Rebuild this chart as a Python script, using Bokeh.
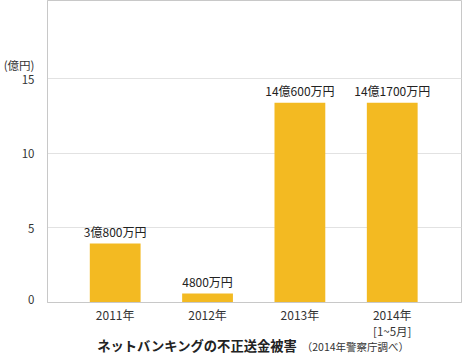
from bokeh.plotting import figure
from bokeh.models import FixedTicker, Range1d, ColumnDataSource
from bokeh.layouts import column
from bokeh.embed import file_html
from bokeh.resources import INLINE
from bokeh.core.properties import value

years = ["2011年", "2012年", "2013年", "2014年"]
year_notes = ["", "", "", "[1~5月]"]
bar_heights = [3.95, 0.6, 13.4, 13.4]  # drawn heights (億円)
bar_labels = ["3億800万円", "4800万円", "14億600万円", "14億1700万円"]
y_ticks = [0, 5, 10, 15]
unit_label = "(億円)"
unit_pos = 15.9
title_main = "ネットバンキングの不正送金被害"
title_sub = "（2014年警察庁調べ）"

FONT = "Noto Sans CJK JP"
xs = list(range(len(years)))
xr = Range1d(-0.733, 3.75)

p = figure(width=473, height=306, output_backend="svg", toolbar_location=None,
           x_range=xr, y_range=Range1d(0, 20.25),
           min_border_left=45, min_border_right=12, min_border_top=0, min_border_bottom=4)
p.background_fill_color = "white"
p.border_fill_color = "white"
p.outline_line_color = "#c8c8c8"
p.outline_line_width = 1

src = ColumnDataSource(dict(x=xs, top=bar_heights, label=bar_labels,
                            ly=[h + 0.22 for h in bar_heights]))
p.vbar(x="x", top="top", width=0.55, bottom=0, source=src,
       fill_color="#F3BA22", line_color=None)
p.text(x="x", y="ly", text="label", source=src, text_align="center",
       text_baseline="bottom", text_font=value(FONT), text_font_size="12px",
       text_color="#222222")

p.xgrid.grid_line_color = None
p.ygrid.grid_line_color = "#e2e2e2"
p.ygrid.ticker = FixedTicker(ticks=y_ticks)

p.yaxis.ticker = FixedTicker(ticks=y_ticks + [unit_pos])
p.yaxis.major_label_overrides = {unit_pos: unit_label}
p.yaxis.major_tick_line_color = None
p.yaxis.minor_tick_line_color = None
p.yaxis.axis_line_color = "#c8c8c8"
p.yaxis.major_label_text_font = FONT
p.yaxis.major_label_text_font_size = "11.5px"
p.yaxis.major_label_text_color = "#333333"
p.yaxis.major_label_standoff = 7

# baseline axis (labels are drawn in the strip below, on the same x scale)
p.xaxis.ticker = FixedTicker(ticks=[])
p.xaxis.major_tick_line_color = None
p.xaxis.minor_tick_line_color = None
p.xaxis.axis_line_color = "#c8c8c8"
p.xaxis.major_label_standoff = 0

# strip below the chart: category labels + caption (y in page pixels, top-down)
t = figure(width=473, height=50, output_backend="svg", toolbar_location=None,
           x_range=xr, y_range=Range1d(356, 306),
           x_axis_location=None, y_axis_location=None,
           min_border_left=45, min_border_right=12, min_border_top=0, min_border_bottom=0)
t.grid.grid_line_color = None
t.outline_line_color = None
t.background_fill_color = "white"
t.border_fill_color = "white"

lab = ColumnDataSource(dict(x=xs, year=years, note=year_notes,
                            y1=[314] * len(xs), y2=[330] * len(xs)))
t.text(x="x", y="y1", text="year", source=lab, text_align="center", text_baseline="middle",
       text_font=value(FONT), text_font_size="12px", text_color="#333333")
t.text(x="x", y="y2", text="note", source=lab, text_align="center", text_baseline="middle",
       text_font=value(FONT), text_font_size="11.5px", text_color="#333333")

t.text(x=[-0.195], y=[345], text=[title_main], text_align="left", text_baseline="middle",
       text_font=value(FONT), text_font_size="13.3px", text_font_style="bold",
       text_color="#222222")
t.text(x=[2.02], y=[345.5], text=[title_sub], text_align="left", text_baseline="middle",
       text_font=value(FONT), text_font_size="10.5px", text_color="#333333")

layout = column(p, t, spacing=0)
open("out.html", "w").write(file_html(layout, INLINE))
